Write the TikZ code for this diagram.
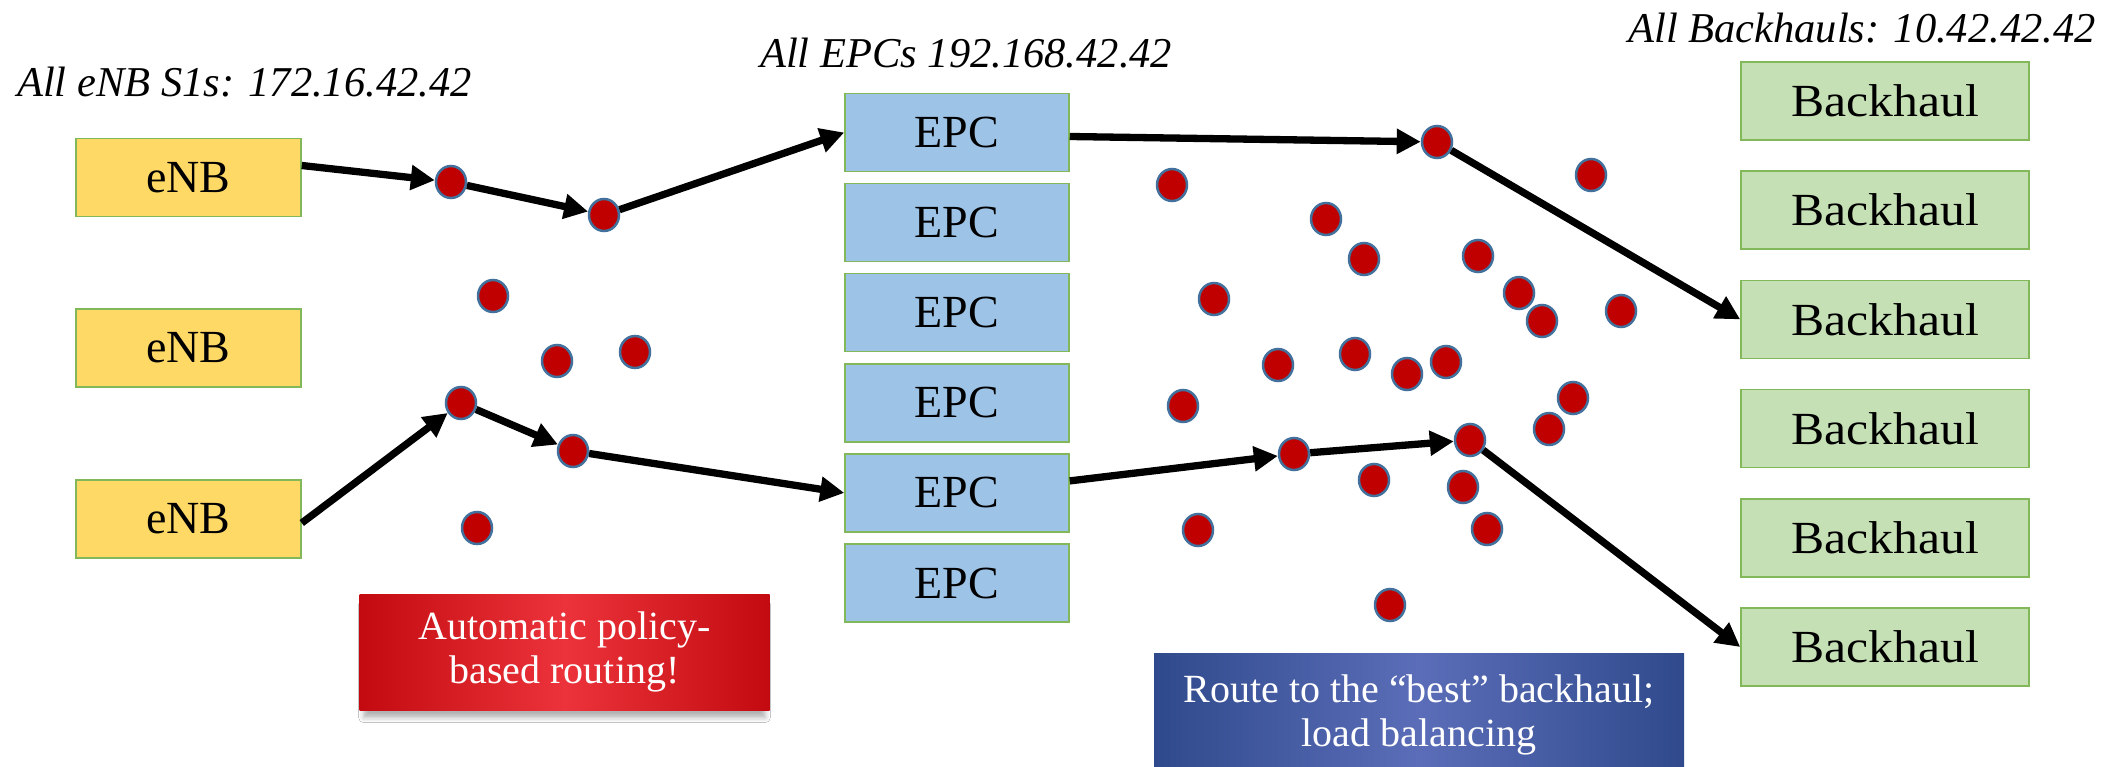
\documentclass[tikz,border=0pt]{standalone}
\usepackage{fontspec}
\setmainfont{Liberation Serif}
\newfontfamily\widefont[FakeStretch=1.08]{Liberation Serif}
\usetikzlibrary{arrows.meta,shapes.geometric,shadows.blur}

\definecolor{enbfill}{HTML}{FFD966}
\definecolor{epcfill}{HTML}{9DC3E6}
\definecolor{bhfill}{HTML}{C5E0B4}
\definecolor{boxline}{HTML}{82B75A}
\definecolor{dotfill}{HTML}{C00000}
\definecolor{dotline}{HTML}{41719C}
\definecolor{rededge}{HTML}{C20A10}
\definecolor{redmid}{HTML}{EC333B}
\definecolor{blueedge}{HTML}{2F4A8C}
\definecolor{bluemid}{HTML}{5B6DB8}

\begin{document}
\begin{tikzpicture}[x=1pt,y=-1pt,
  box/.style={draw=boxline, line width=1.5pt, minimum height=78pt, inner sep=0pt,
    font=\fontsize{46}{54}\selectfont},
  enb/.style={box, fill=enbfill, minimum width=225pt},
  epc/.style={box, fill=epcfill, minimum width=224pt},
  bh/.style={box, fill=bhfill, minimum width=288pt, font=\widefont\fontsize{46}{54}\selectfont},
  hop/.style={ellipse, draw=dotline, line width=2.5pt, fill=dotfill,
    minimum width=30pt, minimum height=32pt, inner sep=0pt},
  flow/.style={line width=7.3pt, -{Triangle[length=24pt,width=24pt]}},
  title/.style={anchor=base west, inner sep=0pt, font=\itshape\fontsize{42.5}{50}\selectfont},
  note/.style={text=white, align=center, inner sep=0pt, font=\fontsize{40}{44}\selectfont}
]
\useasboundingbox (0,0) rectangle (2123,767);
\fill[white] (0,0) rectangle (2123,767);

% column headings
\node[title] (t1) at (17,97) {All eNB S1s: 172.16.42.42};
\node[title] (t2) at (760,68) {All EPCs 192.168.42.42};
\node[title] (t3) at (1628,43) {All Backhauls: 10.42.42.42};

% eNBs
\node[enb] (enb1) at (188.5,177.5) {eNB};
\node[enb] (enb2) at (188.5,348) {eNB};
\node[enb] (enb3) at (188.5,519) {eNB};

% EPCs
\foreach \i in {1,...,6}
  \node[epc] (epc\i) at (957,{132.5+90.1*(\i-1)}) {EPC};

% backhauls
\foreach \i in {1,...,6}
  \node[bh] (bh\i) at (1885,{101+109.2*(\i-1)}) {Backhaul};

% routers
\foreach \n/\x/\y in {1/451/182, 2/604/215, 3/493/296, 4/557/361, 5/635/352,
    6/461/403, 7/573/451, 8/477/528, 9/1437/142, 10/1172/185, 11/1591/175,
    12/1326/219, 13/1364/259, 14/1478/256, 15/1214/299, 16/1519/293,
    17/1542/321, 18/1621/311, 19/1278/365, 20/1355/354, 21/1407/374,
    22/1446/362, 23/1183/406, 24/1573/398, 25/1549/429, 26/1294/454,
    27/1470/440, 28/1374/480, 29/1463/487, 30/1198/530, 31/1487/529,
    32/1390/605}
  \node[hop] (d\n) at (\x,\y) {};

% upper path
\draw[flow] ([yshift=12pt]enb1.east) -- (d1);
\draw[flow] (d1) -- (d2);
\draw[flow] (d2) -- (epc1.west);
\draw[flow] ([yshift=-4pt]epc1.east) -- (d9);
\draw[flow] (d9) -- (bh3.west);

% lower path
\draw[flow] ([yshift=-4pt]enb3.east) -- (d6);
\draw[flow] (d6) -- (d7);
\draw[flow] (d7) -- (epc5.west);
\draw[flow] ([yshift=12pt]epc5.east) -- (d26);
\draw[flow] (d26) -- (d27);
\draw[flow] (d27) -- (bh6.west);

% callouts
\node[note, minimum width=410pt, minimum height=116pt,
  left color=rededge, right color=rededge, middle color=redmid,
  blur shadow={shadow xshift=0pt, shadow yshift=-9pt, shadow scale=0.98,
    shadow blur radius=5pt, shadow opacity=30}]
  (policy) at (564.5,652) {Automatic policy-\\based routing!};
\node[note, minimum width=530pt, minimum height=124pt,
  left color=blueedge, right color=blueedge, middle color=bluemid]
  (balance) at (1419,715) {Route to the \char"201C best\char"201D{} backhaul;\\load balancing};
\end{tikzpicture}
\end{document}
